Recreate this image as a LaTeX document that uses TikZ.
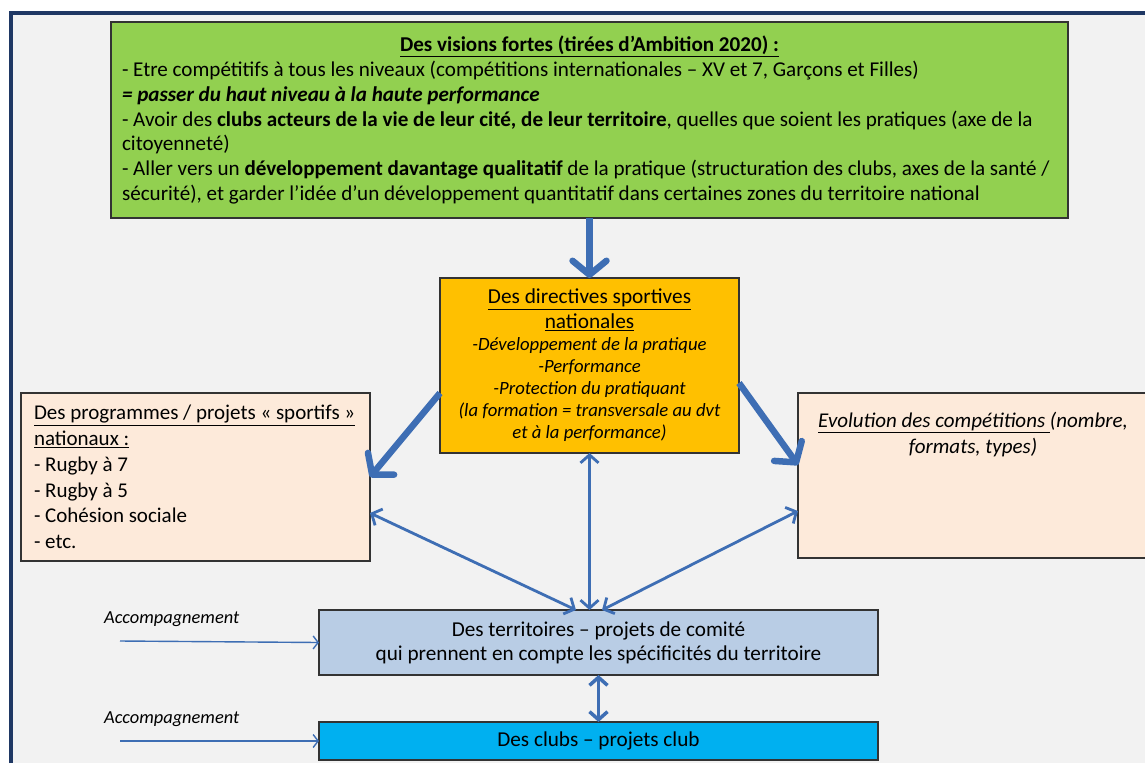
\documentclass[tikz,border=0pt]{standalone}
\usepackage{fontspec}
\setmainfont{Carlito}
\usepackage{tikz}
\usetikzlibrary{arrows.meta, calc}
\definecolor{frameblue}{RGB}{31, 56, 100}
\definecolor{paper}{RGB}{242, 242, 242}
\definecolor{vision}{RGB}{146, 208, 80}
\definecolor{directive}{RGB}{255, 192, 0}
\definecolor{peach}{RGB}{253, 234, 218}
\definecolor{territory}{RGB}{185, 205, 229}
\definecolor{club}{RGB}{0, 176, 240}
\definecolor{arrowblue}{RGB}{62, 110, 180}

\begin{document}
\begin{tikzpicture}[x=1pt, y=-1pt,
  box/.style={draw=black!80, line width=1.2pt, anchor=north west, outer sep=0pt},
  bigarrow/.style={draw=arrowblue, line width=6.5pt, -{Straight Barb[length=14pt, width=34pt, round]}},
  linkarrow/.style={draw=arrowblue, line width=2.8pt, {Straight Barb[length=8pt, width=18pt]}-{Straight Barb[length=8pt, width=18pt]}},
  feedarrow/.style={draw=arrowblue, line width=1.4pt, -{Straight Barb[length=5pt, width=13pt]}}]

  \useasboundingbox (0, 0) rectangle (1145, 763);
  \fill[paper] (9, 11) rectangle (1145, 763);
  \draw[frameblue, line width=4pt] (11, 763) -- (11, 13) -- (1145, 13);

  \node[box, fill=vision, minimum width=957, minimum height=196, text width=935pt,
        inner xsep=11pt, inner ysep=0pt, align=flush left, font=\fontsize{21.1}{24.8}\selectfont] (vision) at (111, 22) {
    \makebox[\hsize][c]{\textbf{\underline{Des visions fortes (tirées d’Ambition 2020) :}}}\\
    - Etre compétitifs à tous les niveaux (compétitions internationales – XV et 7, Garçons et Filles)\\
    \textbf{\textit{= passer du haut niveau à la haute performance}}\\
    - Avoir des \textbf{clubs acteurs de la vie de leur cité, de leur territoire}, quelles que soient les pratiques (axe de la\\
    citoyenneté)\\
    - Aller vers un \textbf{développement davantage qualitatif} de la pratique (structuration des clubs, axes de la santé /\\
    sécurité), et garder l’idée d’un développement quantitatif dans certaines zones du territoire national};

  \node[box, fill=directive, minimum width=299, minimum height=175, text width=284pt,
        inner xsep=7.5pt, align=flush center] (directive) at (440, 278) {
    {\fontsize{21.3}{25}\selectfont\underline{Des directives sportives}\\\underline{nationales}\par}
    {\itshape\fontsize{18.7}{22}\selectfont -Développement de la pratique\\-Performance\\-Protection du pratiquant\\
     (la formation = transversale au dvt\\et à la performance)\par}};

  \node[box, fill=peach, minimum width=349, minimum height=168, text width=323pt,
        inner xsep=13pt, align=flush left, font=\fontsize{21}{25.7}\selectfont] (prog) at (21, 393) {
    \underline{Des programmes / projets « sportifs »}\\\underline{nationaux :}\\- Rugby à 7\\- Rugby à 5\\- Cohésion sociale\\- etc.};

  \node[box, fill=peach, minimum width=350, minimum height=165] (evol) at (798, 393) {};
  \node[anchor=north, align=flush center, inner sep=0pt, font=\itshape\fontsize{21}{26}\selectfont] (evoltext)
    at ([yshift=-19pt]evol.north) {\underline{Evolution des compétitions }(nombre,\\formats, types)};

  \node[box, fill=territory, minimum width=559, minimum height=65, align=flush center,
        font=\fontsize{21.2}{24}\selectfont] (terr) at (319, 610) {Des territoires – projets de comité\\qui prennent en compte les spécificités du territoire};

  \node[box, fill=club, minimum width=559, minimum height=38, font=\fontsize{21.2}{24}\selectfont] (clubs) at (319, 722) {Des clubs – projets club};

  \foreach \n/\y in {1/619, 2/719} {
    \node[anchor=west, inner sep=0pt, font=\itshape\fontsize{18.4}{21}\selectfont] (acc\n) at (104, \y) {Accompagnement};
    \coordinate (accstart\n) at (120, \y + 22);
  }
  \draw[feedarrow] (accstart1) -- (terr.west);
  \draw[feedarrow] (accstart2) -- (clubs.west);

  \draw[bigarrow] (vision.south) -- (directive.north);
  \draw[bigarrow] ($(directive.north west) + (0, 115)$) -- (prog.east);
  \draw[bigarrow] ($(directive.north east) + (0, 105)$) -- ($(evol.north west) + (0, 72)$);

  \draw[linkarrow] ($(prog.north east) + (0, 120)$) -- ($(terr.north west) + (257, 0)$);
  \draw[linkarrow] (directive.south) -- (directive.south |- terr.north);
  \draw[linkarrow] ($(evol.north west) + (0, 118)$) -- ($(terr.north west) + (283, 0)$);
  \draw[linkarrow, line width=3.5pt] (terr.south) -- (clubs.north);

\end{tikzpicture}
\end{document}
